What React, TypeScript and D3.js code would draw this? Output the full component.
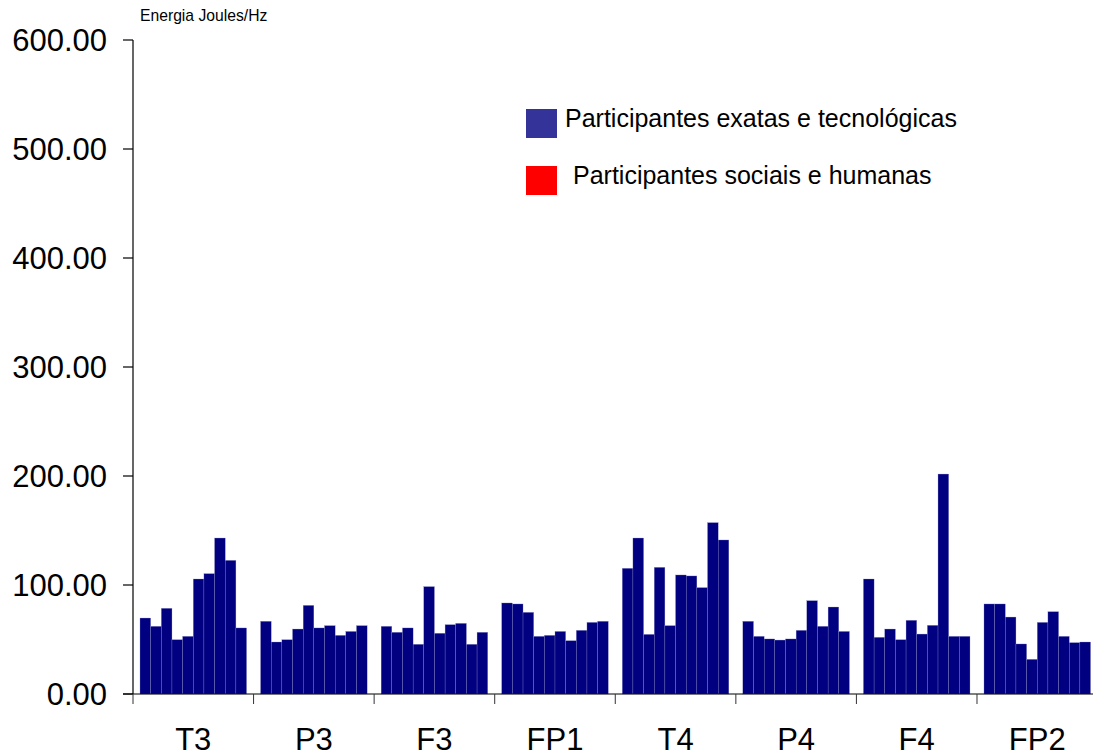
import React from "react";
import * as d3 from "d3";

const groups = ["T3", "P3", "F3", "FP1", "T4", "P4", "F4", "FP2"];
const barIndex = d3.range(10).map(String);

const exatas: number[][] = [
  [69.7, 62.1, 78.6, 49.8, 52.9, 105.5, 110.4, 143.1, 122.6, 60.6],
  [66.7, 47.7, 49.8, 59.6, 81.3, 60.6, 62.7, 53.8, 57.4, 62.7],
  [62.1, 56.6, 60.6, 45.6, 98.5, 55.7, 63.6, 64.8, 45.6, 56.6],
  [83.5, 82.6, 74.9, 52.9, 53.8, 57.4, 48.9, 58.4, 65.7, 66.7],
  [115.3, 143.1, 54.7, 116.2, 62.7, 109.2, 108.3, 97.6, 157.2, 141.3],
  [66.7, 52.9, 50.5, 49.5, 50.5, 58.4, 85.6, 62.1, 79.8, 57.4],
  [105.5, 52.0, 59.6, 49.8, 67.6, 55.0, 63.0, 201.8, 52.9, 52.9],
  [82.6, 82.6, 70.6, 45.9, 31.8, 65.7, 75.5, 52.9, 47.1, 47.7],
];

const yTicks = [0, 100, 200, 300, 400, 500, 600];
const legendItems = ["Participantes exatas e tecnológicas", "Participantes sociais e humanas"];
const legendColors = ["#333399", "#FF0000"];
const yTitle = "Energia Joules/Hz";

const W = 1093;
const H = 754;
const font = "'Liberation Sans', Arial, Helvetica, sans-serif";

export default function App() {
  const x0 = 133;
  const groupW = 120.57;
  const xGroup = d3.scaleBand<string>().domain(groups).range([x0, x0 + groupW * groups.length]).padding(0);
  const gap = 7;
  const xBar = d3.scaleBand<string>().domain(barIndex).range([gap, xGroup.bandwidth() - gap]).padding(0);
  const y = d3.scaleLinear().domain([0, 600]).range([694, 40]);
  const fmt = d3.format(".2f");

  return (
    <svg width={W} height={H} style={{ position: "absolute", left: 0, top: 0, background: "#fff" }} fontFamily={font}>
      <rect x={0} y={0} width={W} height={H} fill="#fff" />
      {/* bars */}
      {groups.map((g, gi) => (
        <g key={g} transform={`translate(${xGroup(g)},0)`}>
          {exatas[gi].map((v, i) => (
            <rect
              key={i}
              x={xBar(String(i))}
              y={y(v)}
              width={xBar.bandwidth()}
              height={y(0) - y(v)}
              fill="#000080"
              stroke="#8a8ac4"
              strokeWidth={0.3}
            />
          ))}
        </g>
      ))}
      {/* y axis */}
      <line x1={x0} x2={x0} y1={y(600)} y2={y(0)} stroke="#000" strokeWidth={1.2} />
      {yTicks.map((t) => (
        <g key={t}>
          <line x1={x0 - 10} x2={x0} y1={y(t)} y2={y(t)} stroke="#000" strokeWidth={1.2} />
          <text x={107} y={y(t)} dy="0.36em" textAnchor="end" fontSize={31} fill="#000">
            {fmt(t)}
          </text>
        </g>
      ))}
      {/* x axis */}
      <line x1={x0 - 10} x2={W} y1={y(0)} y2={y(0)} stroke="#000" strokeWidth={1.2} />
      {groups.map((g) => (
        <line key={g} x1={xGroup(g)!} x2={xGroup(g)!} y1={y(0)} y2={y(0) + 10} stroke="#333" strokeWidth={1} />
      ))}
      {groups.map((g) => (
        <text key={g} x={xGroup(g)! + xGroup.bandwidth() / 2} y={750} textAnchor="middle" fontSize={31} fill="#000">
          {g}
        </text>
      ))}
      {/* y title */}
      <text x={140} y={21} fontSize={15.7} fill="#000">
        {yTitle}
      </text>
      {/* legend */}
      {legendItems.map((l, i) => (
        <g key={l}>
          <rect x={526} y={109 + i * 57} width={31} height={29} fill={legendColors[i]} />
          <text x={i === 0 ? 565 : 573} y={127 + i * 57} fontSize={25} fill="#000">
            {l}
          </text>
        </g>
      ))}
    </svg>
  );
}
